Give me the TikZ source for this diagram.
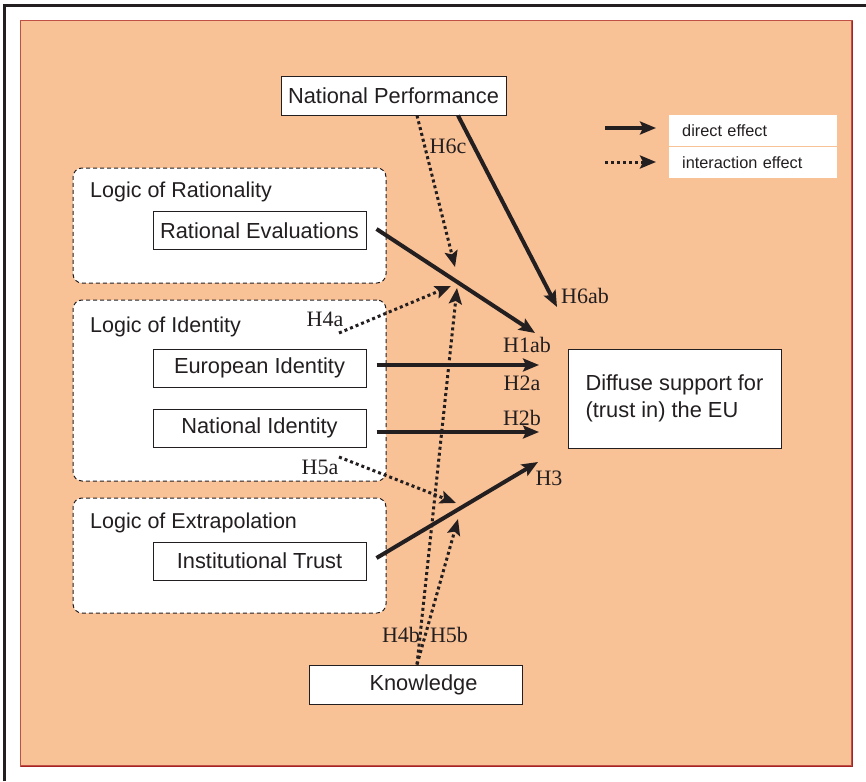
\documentclass[tikz,border=0pt]{standalone}
\usepackage{fontspec}
\setmainfont{Liberation Sans}
\newfontfamily\serifH{Liberation Serif}
\usetikzlibrary{arrows.meta}
\definecolor{bgor}{RGB}{249,193,150}
\definecolor{ink}{RGB}{35,31,32}
\definecolor{edgered}{RGB}{190,80,70}
\definecolor{shadowred}{RGB}{165,35,35}
\begin{document}
\begin{tikzpicture}[x=1pt,y=-1pt,
  box/.style={draw=ink, line width=1pt, fill=white, text=ink, font=\fontsize{21.8}{27}\selectfont, inner sep=0pt},
  group/.style={draw=ink, line width=1pt, dash pattern=on 4pt off 3pt, fill=white, rounded corners=9pt, inner sep=0pt},
  grouptitle/.style={text=ink, font=\fontsize{21.5}{26}\selectfont, inner sep=0pt, anchor=base west},
  legendbox/.style={fill=white, text=ink, font=\fontsize{16.3}{20}\selectfont, inner xsep=13pt, inner ysep=0pt, text width=142pt, align=left, minimum height=31pt, anchor=west},
  tipA/.tip={Stealth[length=16pt,width=13pt,inset=3pt]},
  direct/.style={draw=ink, line width=4pt, -tipA},
  inter/.style={draw=ink, line width=3pt, dash pattern=on 3pt off 3pt, -tipA},
  hlab/.style={text=ink, font=\serifH\fontsize{22}{26}\selectfont, inner sep=0pt}]
\useasboundingbox (0,0) rectangle (866,781);
% outer frame
\draw[line width=2.7pt, ink] (4.7,781) -- (4.7,5.3) -- (866,5.3);
% background panel
\fill[bgor] (20.7,20.7) rectangle (852,766);
\draw[edgered, line width=1.2pt] (20.7,20.7) rectangle (852,766);
\draw[shadowred, line width=1.6pt] (20.7,766.5) -- (852.5,766.5) -- (852.5,20.7);
% legend
\coordinate (ls1) at (605,128);
\coordinate (le1) at (656,128);
\coordinate (ls2) at (605,162);
\coordinate (le2) at (656,162);
\draw[direct] (ls1) -- (le1);
\draw[inter] (ls2) -- (le2);
\node[legendbox] (lg1) at (669,130.5) {direct effect};
\node[legendbox] (lg2) at (669,162.5) {interaction effect};
% groups
\node[group, minimum width=313pt, minimum height=115pt] (grat) at (229.5,225.5) {};
\node[group, minimum width=313pt, minimum height=181pt] (gid) at (229.5,390.5) {};
\node[group, minimum width=313pt, minimum height=115pt] (gext) at (229.5,555.5) {};
\node[grouptitle] (trat) at (90,197) {Logic of Rationality};
\node[grouptitle] (tid) at (90,332) {Logic of Identity};
\node[grouptitle] (text) at (90,528) {Logic of Extrapolation};
% boxes
\node[box, minimum width=213pt, minimum height=38.5pt] (re) at (259.5,230.5) {Rational Evaluations};
\node[box, minimum width=213pt, minimum height=38pt] (ei) at (259.5,368) {European Identity};
\node[box, minimum width=213pt, minimum height=38pt] (ni) at (259.5,428) {National Identity};
\node[box, minimum width=213pt, minimum height=38pt] (it) at (259.5,561) {Institutional Trust};
\node[box, minimum width=225pt, minimum height=38pt] (np) at (393.5,96) {National Performance};
\node[box, minimum width=213pt, minimum height=39pt] (kn) at (415.5,684.5) {\hspace{16pt}Knowledge};
\node[box, minimum width=213pt, minimum height=99pt, align=left] (ds) at (674.5,398.5) {Diffuse support for\\(trust in) the EU};
% end points
\coordinate (t1) at (535,333);
\coordinate (t2a) at (539,365);
\coordinate (t2b) at (539,432);
\coordinate (t3) at (538,462);
\coordinate (t6ab) at (557,307);
\coordinate (t6c) at (455,267);
\coordinate (s4a) at (339,333);
\coordinate (t4a) at (451,286);
\coordinate (t4b) at (457,288);
\coordinate (s5a) at (339,457);
\coordinate (t5a) at (456,503);
\coordinate (t5b) at (458,519);
% direct effects
\draw[direct] ([xshift=10pt,yshift=1.5pt]re.east) -- (t1);
\draw[direct] (ei.east |- t2a) ++(10,0) -- (t2a);
\draw[direct] (ni.east |- t2b) ++(10,0) -- (t2b);
\draw[direct] ([xshift=10pt,yshift=3pt]it.east) -- (t3);
\draw[direct] ([xshift=64.5pt]np.south) -- (t6ab);
% interaction effects
\draw[inter] ([xshift=23.5pt]np.south) -- (t6c);
\draw[inter] (s4a) -- (t4a);
\draw[inter] ([xshift=1.5pt]kn.north) -- (t4b);
\draw[inter] (s5a) -- (t5a);
\draw[inter] ([xshift=1.5pt]kn.north) -- (t5b);
% labels
\node[hlab] (l6c) at (448,146) {H6c};
\node[hlab] (l6ab) at (585,296) {H6ab};
\node[hlab] (l4a) at (325,319) {H4a};
\node[hlab] (l1) at (527,345) {H1ab};
\node[hlab] (l2a) at (522,383) {H2a};
\node[hlab] (l2b) at (522,418) {H2b};
\node[hlab] (l5a) at (320,467) {H5a};
\node[hlab] (l3) at (549,478) {H3};
\node[hlab] (l4b) at (401,635) {H4b};
\node[hlab] (l5b) at (449,635) {H5b};
\end{tikzpicture}
\end{document}
